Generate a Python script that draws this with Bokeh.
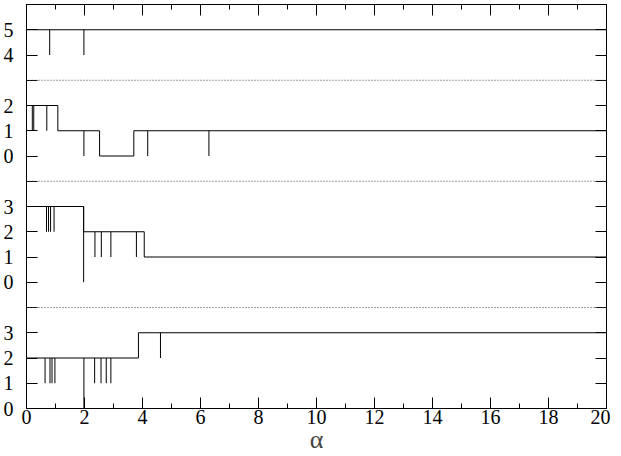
import numpy as np
from bokeh.plotting import figure
from bokeh.models import (Range1d, LinearAxis, SingleIntervalTicker, FixedTicker, Span,
                          CustomLabelingPolicy)
from bokeh.embed import file_html
from bokeh.resources import INLINE

# ---------------- data ----------------
x_label = "α"
y_ticks = list(range(0, 17))
y_tick_labels = ["0", "1", "2", "3", "", "0", "1", "2", "3", "", "0", "1", "2", "", "4", "5", ""]
separators = [4, 9, 13]

# panel A (top), vertical offset 10
a_offset = 10
a_step_x = [0, 20]
a_step_y = [5, 5]
a_spike_x = [0.80, 1.98]
a_spike_hi = [5, 5]
a_spike_lo = [4, 4]

# panel B, vertical offset 10
b_offset = 10
b_step_x = [0, 1.08, 2.52, 3.70, 20]
b_step_y = [2, 1, 0, 1, 1]
b_spike_x = [0.20, 0.25, 0.70, 1.98, 4.18, 6.29]
b_spike_hi = [2, 2, 2, 1, 1, 1]
b_spike_lo = [1, 1, 1, 0, 0, 0]

# panel C, vertical offset 5
c_offset = 5
c_step_x = [0, 1.97, 4.06, 20]
c_step_y = [3, 2, 1, 1]
c_spike_x = [0.69, 0.76, 0.83, 0.95, 1.97, 2.36, 2.58, 2.91, 3.79]
c_spike_hi = [3, 3, 3, 3, 3, 2, 2, 2, 2]
c_spike_lo = [2, 2, 2, 2, 0, 1, 1, 1, 1]

# panel D (bottom), vertical offset 0
d_offset = 0
d_step_x = [0, 3.86, 20]
d_step_y = [2, 3, 3]
d_spike_x = [0.64, 0.81, 0.88, 0.98, 1.98, 2.35, 2.57, 2.75, 2.91, 4.62]
d_spike_hi = [2, 2, 2, 2, 2, 2, 2, 2, 2, 3]
d_spike_lo = [1, 1, 1, 1, 0, 1, 1, 1, 1, 2]

panels = [
    (a_offset, a_step_x, a_step_y, a_spike_x, a_spike_hi, a_spike_lo),
    (b_offset, b_step_x, b_step_y, b_spike_x, b_spike_hi, b_spike_lo),
    (c_offset, c_step_x, c_step_y, c_spike_x, c_spike_hi, c_spike_lo),
    (d_offset, d_step_x, d_step_y, d_spike_x, d_spike_hi, d_spike_lo),
]

FONT = "Liberation Serif"

p = figure(width=610, height=456, output_backend="svg", toolbar_location=None,
           x_range=Range1d(0, 20), y_range=Range1d(0, 16),
           min_border_left=26, min_border_right=2, min_border_top=1, min_border_bottom=0)
p.xgrid.visible = False
p.ygrid.visible = False
p.outline_line_color = "black"
p.outline_line_width = 1
p.background_fill_color = "white"
p.border_fill_color = "white"

xticker = SingleIntervalTicker(interval=2, num_minor_ticks=2)
yticker = FixedTicker(ticks=y_ticks, minor_ticks=[])

# label policies: hide every label on the mirror axes, hide empty ticks on the left axis
hide_all = CustomLabelingPolicy(code="""
    const all = [...indices];
    for (const i of all) indices.unset(i);
    return indices;
""")
empty_idx = [i for i, s in enumerate(y_tick_labels) if s == ""]
hide_empty = CustomLabelingPolicy(code="""
    const hide = %s;
    for (const i of hide) indices.unset(i);
    return indices;
""" % str(empty_idx))

def style_axis(ax):
    ax.axis_line_color = "black"
    ax.major_tick_line_color = "black"
    ax.minor_tick_line_color = "black"
    ax.major_tick_in = 11
    ax.major_tick_out = 0
    ax.minor_tick_in = 5
    ax.minor_tick_out = 0
    ax.major_label_text_font = FONT
    ax.major_label_text_font_size = "20px"
    ax.major_label_text_color = "black"

xa = p.xaxis[0]
xa.ticker = xticker
style_axis(xa)
xa.major_label_standoff = 1
xa.axis_label = x_label
xa.axis_label_text_font = FONT
xa.axis_label_text_font_size = "26px"
xa.axis_label_text_font_style = "normal"
xa.axis_label_standoff = -2

ya = p.yaxis[0]
ya.ticker = yticker
style_axis(ya)
ya.major_label_standoff = 13
ya.major_label_overrides = {t: s for t, s in zip(y_ticks, y_tick_labels)}
ya.major_label_policy = hide_empty

top_ax = LinearAxis(ticker=xticker)
style_axis(top_ax)
top_ax.major_label_standoff = 0
top_ax.major_label_text_font_size = "1px"
top_ax.major_label_policy = hide_all
p.add_layout(top_ax, "above")

right_ax = LinearAxis(ticker=yticker)
style_axis(right_ax)
right_ax.major_label_standoff = 0
right_ax.major_label_text_font_size = "1px"
right_ax.major_label_policy = hide_all
p.add_layout(right_ax, "right")

for s in separators:
    p.add_layout(Span(location=s, dimension="width", line_color="#444444",
                      line_width=1, line_dash="1 2"))

for off, sx, sy, kx, khi, klo in panels:
    p.step(sx, list(np.array(sy) + off), mode="after", line_color="black", line_width=1)
    p.segment(x0=kx, y0=list(np.array(klo) + off), x1=kx, y1=list(np.array(khi) + off),
              line_color="black", line_width=1)

open("out.html", "w").write(file_html(p, INLINE))
